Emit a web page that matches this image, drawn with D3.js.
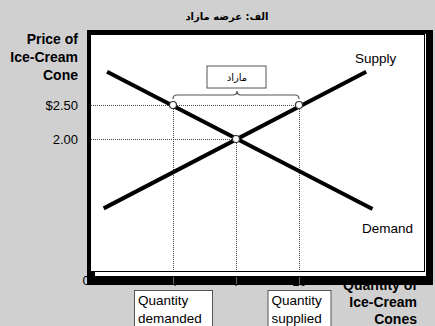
<!DOCTYPE html>
<html>
<head>
<meta charset="utf-8">
<script src="https://cdn.jsdelivr.net/npm/d3@7"></script>
<style>
  body { margin: 0; background: #d0d0d0; }
  svg { display: block; font-family: "Liberation Sans", Arial, sans-serif; }
  .fa { font-family: "DejaVu Sans", sans-serif; }
</style>
</head>
<body>
<div id="chart"></div>
<script>
// data
const priceTicks = [2.0, 2.5];
const priceLabels = ["2.00", "$2.50"];
const qtyTicks = [0, 4, 7, 10];
const qtyLabels = ["0", "4", "7", "10"];
const demand = [{q: 0.86, p: 2.99}, {q: 13.5, p: 0.97}];
const supply = [{q: 0.7, p: 0.98}, {q: 13.2, p: 2.99}];
const points = [{q: 4, p: 2.5}, {q: 7, p: 2.0}, {q: 10, p: 2.5}];
const surplus = {from: 4, to: 10, price: 2.5, label: "مازاد"};
const boxes = [
  {q: 4, lines: ["Quantity", "demanded"]},
  {q: 10, lines: ["Quantity", "supplied"]}
];
const title = "الف: عرضه مازاد";

const W = 435, H = 326;
const frame = {left: 87, top: 30, right: 433, bottom: 285};
const inner = {left: 90, top: 34, right: 425, bottom: 272};

const x = d3.scaleLinear().domain([0, 10]).range([89, 299]);
const y = d3.scaleLinear().domain([0, 2.5]).range([275, 105]);

const svg = d3.select("#chart").append("svg")
  .attr("width", W).attr("height", H);

svg.append("rect").attr("width", W).attr("height", H).attr("fill", "#d0d0d0");

// title
svg.append("text").attr("class", "fa")
  .attr("x", 227).attr("y", 20)
  .attr("text-anchor", "middle")
  .style("font-size", "10px").style("font-weight", "bold")
  .text(title);

// y axis title
const yTitle = svg.append("text")
  .attr("text-anchor", "end")
  .style("font-size", "14px").style("font-weight", "bold");
["Price of", "Ice-Cream", "Cone"].forEach((t, i) => {
  yTitle.append("tspan").attr("x", 78).attr("y", 44 + i * 18).text(t);
});

// x axis title (partly under the frame, as in the picture)
const xTitle = svg.append("text")
  .attr("text-anchor", "end")
  .style("font-size", "14px").style("font-weight", "bold");
["Quantity of", "Ice-Cream", "Cones"].forEach((t, i) => {
  xTitle.append("tspan").attr("x", 417).attr("y", 290 + i * 17).text(t);
});

// x tick labels (hidden by the frame bar)
const xLab = svg.append("g")
  .attr("transform", `translate(0,277)`)
  .call(d3.axisBottom(x).tickValues(qtyTicks)
    .tickFormat((d, i) => qtyLabels[i]).tickSize(0).tickPadding(0));
xLab.select(".domain").remove();
xLab.selectAll("text").style("font-size", "13px").style("font-family", "inherit").attr("fill", "#000");
xLab.selectAll("text").filter(d => d === 0).attr("dx", -3.5).attr("dy", "0.6em");

// frame
svg.append("rect")
  .attr("x", frame.left).attr("y", frame.top)
  .attr("width", frame.right - frame.left).attr("height", frame.bottom - frame.top)
  .attr("fill", "#000");
svg.append("rect")
  .attr("x", inner.left).attr("y", inner.top)
  .attr("width", inner.right + 1 - inner.left).attr("height", inner.bottom + 4 - inner.top)
  .attr("fill", "#fff");
svg.append("rect")
  .attr("x", inner.left + 0.5).attr("y", inner.top + 0.5)
  .attr("width", inner.right - inner.left - 1).attr("height", inner.bottom - inner.top - 1)
  .attr("fill", "none").attr("stroke", "#000");
svg.append("rect")
  .attr("x", frame.left).attr("y", inner.bottom - 1)
  .attr("width", 8).attr("height", frame.bottom - inner.bottom + 1)
  .attr("fill", "#000");

// tick marks on the bar
const xTicks = svg.append("g")
  .attr("transform", `translate(0,277)`)
  .call(d3.axisBottom(x).tickValues(qtyTicks.slice(1)).tickFormat("").tickSize(7));
xTicks.select(".domain").remove();
xTicks.selectAll("line").attr("stroke", "#666");

// y axis labels
const yAx = svg.append("g")
  .attr("transform", `translate(79,0)`)
  .call(d3.axisLeft(y).tickValues(priceTicks)
    .tickFormat((d, i) => priceLabels[i]).tickSize(0).tickPadding(1));
yAx.select(".domain").remove();
yAx.selectAll("text").style("font-size", "13px").style("font-family", "inherit").attr("fill", "#000");

// dotted guides
const guides = svg.append("g")
  .attr("stroke", "#444").attr("stroke-width", 1)
  .attr("stroke-dasharray", "1,1").attr("fill", "none");
points.forEach(d => {
  guides.append("line")
    .attr("x1", inner.left + 1).attr("x2", x(d.q))
    .attr("y1", Math.round(y(d.p)) + 0.5).attr("y2", Math.round(y(d.p)) + 0.5);
  guides.append("line")
    .attr("x1", Math.round(x(d.q)) + 0.5).attr("x2", Math.round(x(d.q)) + 0.5)
    .attr("y1", y(d.p)).attr("y2", inner.bottom - 1);
});

// curves
const line = d3.line().x(d => x(d.q)).y(d => y(d.p));
[demand, supply].forEach(s => {
  svg.append("path").datum(s)
    .attr("d", line)
    .attr("fill", "none").attr("stroke", "#000").attr("stroke-width", 4);
});

svg.append("text").attr("x", 355).attr("y", 63)
  .style("font-size", "13.5px").text("Supply");
svg.append("text").attr("x", 362).attr("y", 233)
  .style("font-size", "13.5px").text("Demand");

// points
svg.selectAll(".pt").data(points).enter().append("circle")
  .attr("class", "pt")
  .attr("cx", d => x(d.q)).attr("cy", d => y(d.p)).attr("r", 3.5)
  .attr("fill", "#fff").attr("stroke", "#333").attr("stroke-width", 1.2);

// brace over the surplus
const bx0 = x(surplus.from), bx1 = x(surplus.to);
const bm = (bx0 + bx1) / 2 + 1;
const by = y(surplus.price) - 10;
const brace = d3.path();
brace.moveTo(bx0, by + 4);
brace.quadraticCurveTo(bx0, by, bx0 + 4, by);
brace.lineTo(bm - 4, by);
brace.quadraticCurveTo(bm, by, bm, by - 4);
brace.quadraticCurveTo(bm, by, bm + 4, by);
brace.lineTo(bx1 - 4, by);
brace.quadraticCurveTo(bx1, by, bx1, by + 4);
svg.append("path").attr("d", brace.toString())
  .attr("fill", "none").attr("stroke", "#555").attr("stroke-width", 1.2);

svg.append("rect")
  .attr("x", bm - 30).attr("y", by - 29).attr("width", 59).attr("height", 22)
  .attr("fill", "#fff").attr("stroke", "#555");
svg.append("text").attr("class", "fa")
  .attr("x", bm).attr("y", by - 14)
  .attr("text-anchor", "middle").style("font-size", "10px")
  .text(surplus.label);

// boxes under the axis
boxes.forEach(b => {
  const w = b.q === 4 ? 78 : 63;
  const bx = x(b.q) - w / 2;
  svg.append("rect")
    .attr("x", bx + 0.5).attr("y", 290.5).attr("width", w).attr("height", 40)
    .attr("fill", "#fff").attr("stroke", "#555");
  const t = svg.append("text").style("font-size", "13.5px");
  b.lines.forEach((s, i) => {
    t.append("tspan").attr("x", bx + 4).attr("y", 305 + i * 18).text(s);
  });
});
</script>
</body>
</html>
